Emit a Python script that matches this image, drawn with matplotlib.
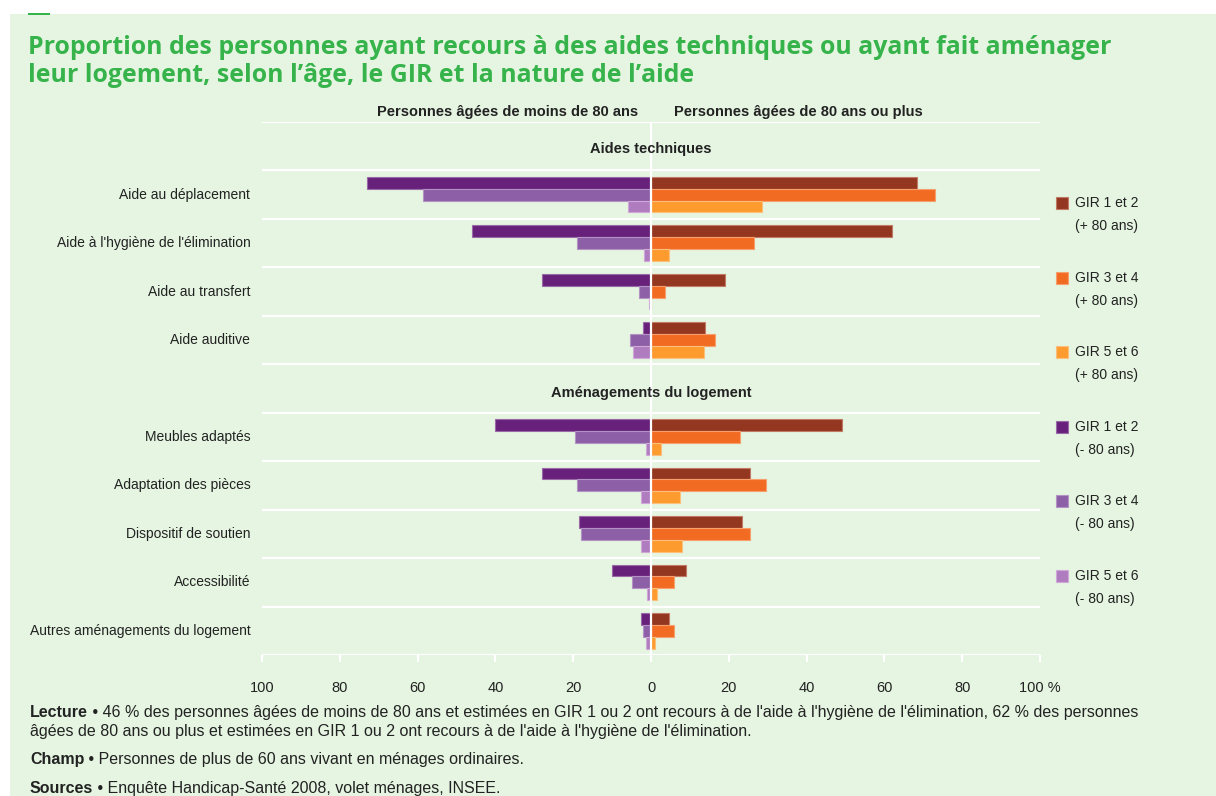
"""Aides techniques / aménagements du logement selon l'âge et le GIR."""
import matplotlib
matplotlib.use("Agg")
import matplotlib.pyplot as plt
from matplotlib.patches import Rectangle

W, H = 1216, 796
BG = "#e5f5e1"
GREEN = "#36b34a"
TXT = "#222222"

# ── data ──────────────────────────────────────────────────────────
sections = ["Aides techniques", "Aménagements du logement"]
cats_aides = ["Aide au déplacement", "Aide à l'hygiène de l'élimination",
              "Aide au transfert", "Aide auditive"]
cats_amen = ["Meubles adaptés", "Adaptation des pièces", "Dispositif de soutien",
             "Accessibilité", "Autres aménagements du logement"]

# moins de 80 ans (drawn to the left)
moins_gir12 = [73, 46, 28, 2, 40, 28, 18.5, 10, 2.5]
moins_gir34 = [58.5, 19, 3, 5.5, 19.5, 19, 18, 5, 2]
moins_gir56 = [6, 1.7, 0.5, 4.5, 1.3, 2.5, 2.5, 1, 1.3]
# 80 ans ou plus (drawn to the right)
plus_gir12 = [68.5, 62, 19, 14, 49, 25.5, 23.5, 9, 4.5]
plus_gir34 = [73, 26.5, 3.5, 16.5, 23, 29.5, 25.5, 6, 6]
plus_gir56 = [28.5, 4.5, 0, 13.5, 2.5, 7.5, 8, 1.5, 1]

xticks = [-100, -80, -60, -40, -20, 0, 20, 40, 60, 80, 100]
xticklabels = ["100", "80", "60", "40", "20", "0", "20", "40", "60", "80", "100 %"]

legend_labels = ["GIR 1 et 2\n(+ 80 ans)", "GIR 3 et 4\n(+ 80 ans)", "GIR 5 et 6\n(+ 80 ans)",
                 "GIR 1 et 2\n(- 80 ans)", "GIR 3 et 4\n(- 80 ans)", "GIR 5 et 6\n(- 80 ans)"]

C_PLUS = ["#943720", "#f26b22", "#fd9b2f"]
C_MOINS = ["#68217b", "#8c5fa7", "#b07cc0"]
E_PLUS = ["#c07a66", "#f7a06e", "#fdc07a"]
E_MOINS = ["#9a6aa8", "#b392c4", "#cfa8d8"]

plt.rcParams["font.family"] = ["Liberation Sans", "DejaVu Sans"]

fig = plt.figure(figsize=(W / 100, H / 100), dpi=100)
fig.patch.set_facecolor("white")


def fx(px):
    return px / W


def fy(py):
    return 1 - py / H


# background panel + small dash
fig.patches.append(Rectangle((fx(10), 0), 1 - fx(10), fy(14), transform=fig.transFigure,
                             facecolor=BG, edgecolor="none", zorder=-10))
fig.patches.append(Rectangle((fx(28), fy(15)), fx(22), 2 / H, transform=fig.transFigure,
                             facecolor=GREEN, edgecolor="none", zorder=-5))

# title
for y, line in [(47, "Proportion des personnes ayant recours à des aides techniques ou ayant fait aménager"),
                (75, "leur logement, selon l’âge, le GIR et la nature de l’aide")]:
    fig.text(fx(28), fy(y), line, fontsize=17.9, fontweight="bold", color=GREEN, va="center",
             family=["Open Sans", "DejaVu Sans"])

# ── axes ──────────────────────────────────────────────────────────
ax = fig.add_axes([fx(262), fy(655), fx(1040) - fx(262), fy(122) - fy(655)])
ax.set_facecolor("none")
for s in ax.spines.values():
    s.set_visible(False)

# slots: 0 header, 1-4 aides, 5 header, 6-10 aménagements
cat_slots = [1, 2, 3, 4, 6, 7, 8, 9, 10]
labels = cats_aides + cats_amen
h = 0.245
offs = [-h, 0, h]

for vals, col, ec, o in zip([moins_gir12, moins_gir34, moins_gir56], C_MOINS, E_MOINS, offs):
    ax.barh([s + o for s in cat_slots], [-v for v in vals], height=h, color=col,
            edgecolor=ec, linewidth=0.8, zorder=3)
for vals, col, ec, o in zip([plus_gir12, plus_gir34, plus_gir56], C_PLUS, E_PLUS, offs):
    ax.barh([s + o for s in cat_slots], vals, height=h, color=col,
            edgecolor=ec, linewidth=0.8, zorder=3)

ax.set_xlim(-100, 100)
ax.set_ylim(10.5, -0.5)

for yl in [i - 0.5 for i in range(12)]:
    ax.axhline(yl, color="white", lw=1.6, zorder=1)
ax.axvline(0, color="white", lw=1.6, zorder=4)

ax.set_yticks([])
ax.set_xticks(xticks)
ax.set_xticklabels(xticklabels, fontsize=10.5, color=TXT)
ax.tick_params(axis="x", length=5, width=1.6, color="white", pad=14)

for s, lab in zip(cat_slots, labels):
    ax.text(-103, s, lab, ha="right", va="center", fontsize=10, color=TXT)

ax.text(0, 0.05, sections[0], ha="center", va="center", fontsize=10.5,
        fontweight="bold", color=TXT, zorder=5)
ax.text(0, 5.1, sections[1], ha="center", va="center", fontsize=10.5,
        fontweight="bold", color=TXT, zorder=5)

fig.text(fx(508), fy(112), "Personnes âgées de moins de 80 ans", ha="center", va="center",
         fontsize=10.5, fontweight="bold", color=TXT)
fig.text(fx(798), fy(112), "Personnes âgées de 80 ans ou plus", ha="center", va="center",
         fontsize=10.5, fontweight="bold", color=TXT)

# ── legend ────────────────────────────────────────────────────────
leg_cols = C_PLUS + C_MOINS
leg_edges = E_PLUS + E_MOINS
for i, (lab, col, ec) in enumerate(zip(legend_labels, leg_cols, leg_edges)):
    y0 = 203 + i * 74.6
    fig.patches.append(Rectangle((fx(1056), fy(y0 + 6)), fx(12), 12 / H, transform=fig.transFigure,
                                 facecolor=col, edgecolor=ec, lw=0.8, zorder=3))
    l1, l2 = lab.split("\n")
    fig.text(fx(1075), fy(y0), l1, fontsize=10, color=TXT, va="center")
    fig.text(fx(1075), fy(y0 + 23), l2, fontsize=10, color=TXT, va="center")

# ── notes ─────────────────────────────────────────────────────────
notes = [
    (717, "Lecture", " • 46 % des personnes âgées de moins de 80 ans et estimées en GIR 1 ou 2 ont recours à de l'aide à l'hygiène de l'élimination, 62 % des personnes"),
    (736, "", "âgées de 80 ans ou plus et estimées en GIR 1 ou 2 ont recours à de l'aide à l'hygiène de l'élimination."),
    (764, "Champ", " • Personnes de plus de 60 ans vivant en ménages ordinaires."),
    (793, "Sources", " • Enquête Handicap-Santé 2008, volet ménages, INSEE."),
]
fig.canvas.draw()
r = fig.canvas.get_renderer()
for y, bold, rest in notes:
    x = 30
    if bold:
        t = fig.text(fx(x), fy(y), bold, fontsize=11.5, fontweight="bold", color=TXT, va="baseline")
        x += t.get_window_extent(r).width
    fig.text(fx(x), fy(y), rest, fontsize=11.5, color=TXT, va="baseline")

fig.savefig("out.png", dpi=100, facecolor="white")
